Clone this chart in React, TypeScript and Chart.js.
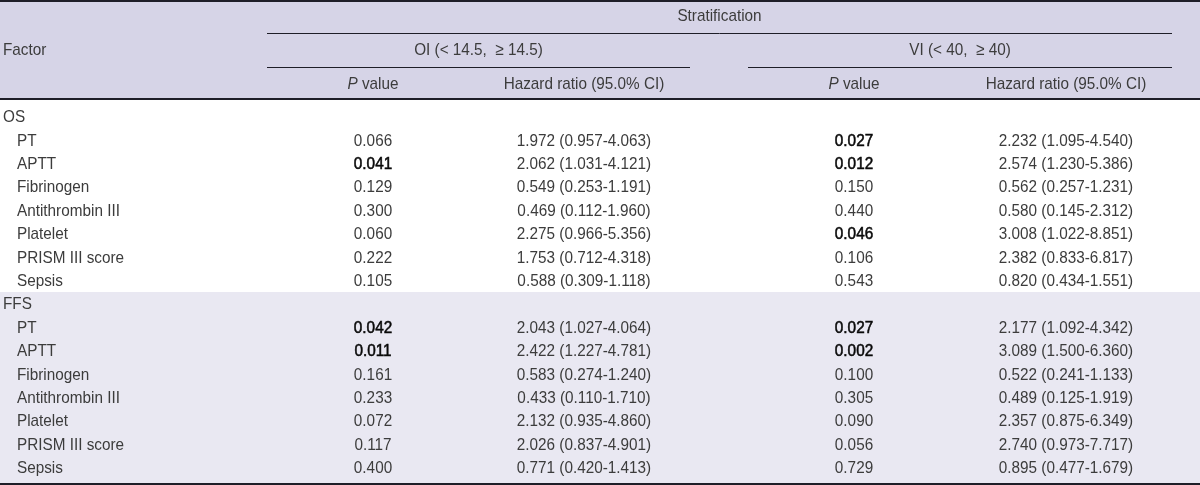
import React, { useEffect, useRef } from 'react';
import { Chart, registerables } from 'chart.js';

Chart.register(...registerables);

// ---------- data ----------
const groups = ['OS', 'FFS'];
const factors = ['PT', 'APTT', 'Fibrinogen', 'Antithrombin III', 'Platelet', 'PRISM III score', 'Sepsis'];
const stratTitle = 'Stratification';
const strataLabels = ['OI (< 14.5,  \u2265 14.5)', 'VI (< 40,  \u2265 40)'];
const factorHeader = 'Factor';
const hrHeader = 'Hazard ratio (95.0% CI)';

const osOiP = [0.066, 0.041, 0.129, 0.300, 0.060, 0.222, 0.105];
const osOiHR = [[1.972, 0.957, 4.063], [2.062, 1.031, 4.121], [0.549, 0.253, 1.191], [0.469, 0.112, 1.960], [2.275, 0.966, 5.356], [1.753, 0.712, 4.318], [0.588, 0.309, 1.118]];
const osViP = [0.027, 0.012, 0.150, 0.440, 0.046, 0.106, 0.543];
const osViHR = [[2.232, 1.095, 4.540], [2.574, 1.230, 5.386], [0.562, 0.257, 1.231], [0.580, 0.145, 2.312], [3.008, 1.022, 8.851], [2.382, 0.833, 6.817], [0.820, 0.434, 1.551]];
const ffsOiP = [0.042, 0.011, 0.161, 0.233, 0.072, 0.117, 0.400];
const ffsOiHR = [[2.043, 1.027, 4.064], [2.422, 1.227, 4.781], [0.583, 0.274, 1.240], [0.433, 0.110, 1.710], [2.132, 0.935, 4.860], [2.026, 0.837, 4.901], [0.771, 0.420, 1.413]];
const ffsViP = [0.027, 0.002, 0.100, 0.305, 0.090, 0.056, 0.729];
const ffsViHR = [[2.177, 1.092, 4.342], [3.089, 1.500, 6.360], [0.522, 0.241, 1.133], [0.489, 0.125, 1.919], [2.357, 0.875, 6.349], [2.740, 0.973, 7.717], [0.895, 0.477, 1.679]];

// ---------- layout / style ----------
const W = 1200;
const H = 485;
const FONT = '"Liberation Sans", Arial, sans-serif';
const FONT_SIZE = 17;
const X_SQUEEZE = 0.9;
const TEXT_DY = 1;
const TEXT = '#3c3c3c';
const TEXT_BOLD = '#0a0a0a';
const HEADER_BG = '#d6d4e7';
const FFS_BG = '#e9e8f2';
const LINE = '#1e1e28';
const COL = { factor: 3, indent: 17, oiP: 373, oiHR: 584, viP: 854, viHR: 1066 };
const SPAN = { strat: [267, 1172], oi: [267, 690], vi: [748, 1172] };
const Y_MIN = -4.979;
const Y_MAX = 15.748;
const HDR_ROWS = [-4.34, -2.89, -1.43];
const HDR_LINES = [-3.58, -2.13];
const HDR_BOTTOM = -0.75;
const FFS_TOP = 7.5;

const fmtP = (v: number) => v.toFixed(3);
const fmtHR = (t: number[]) => `${t[0].toFixed(3)} (${t[1].toFixed(3)}-${t[2].toFixed(3)})`;

function buildColumns() {
  const rowsFactor: any[] = [];
  const pOI: any[] = [], hrOI: any[] = [], pVI: any[] = [], hrVI: any[] = [];
  const sets = [
    [osOiP, osOiHR, osViP, osViHR],
    [ffsOiP, ffsOiHR, ffsViP, ffsViHR],
  ];
  groups.forEach((g, gi) => {
    const base = gi * (factors.length + 1);
    rowsFactor.push({ y: base, label: g, x: COL.factor });
    const [a, b, c, d] = sets[gi] as any;
    factors.forEach((f, fi) => {
      const y = base + 1 + fi;
      rowsFactor.push({ y, label: f, x: COL.indent });
      pOI.push({ y, x: COL.oiP, label: fmtP(a[fi]), bold: a[fi] < 0.05 });
      hrOI.push({ y, x: COL.oiHR, label: fmtHR(b[fi]) });
      pVI.push({ y, x: COL.viP, label: fmtP(c[fi]), bold: c[fi] < 0.05 });
      hrVI.push({ y, x: COL.viHR, label: fmtHR(d[fi]) });
    });
  });
  return [
    { pts: rowsFactor, align: 'left' },
    { pts: pOI, align: 'center' },
    { pts: hrOI, align: 'center' },
    { pts: pVI, align: 'center' },
    { pts: hrVI, align: 'center' },
  ];
}

function drawText(ctx: CanvasRenderingContext2D, text: string, x: number, y: number, align: CanvasTextAlign, opts: { italic?: boolean; bold?: boolean } = {}) {
  ctx.save();
  ctx.translate(x, y + TEXT_DY);
  ctx.scale(X_SQUEEZE, 1);
  ctx.font = `${opts.italic ? 'italic ' : ''}${FONT_SIZE}px ${FONT}`;
  ctx.textAlign = align;
  ctx.textBaseline = 'middle';
  ctx.fillStyle = opts.bold ? TEXT_BOLD : TEXT;
  ctx.fillText(text, 0, 0);
  if (opts.bold) {
    ctx.strokeStyle = TEXT_BOLD;
    ctx.lineWidth = 0.55;
    ctx.strokeText(text, 0, 0);
  }
  ctx.restore();
}

function measure(ctx: CanvasRenderingContext2D, text: string, italic = false) {
  ctx.save();
  ctx.font = `${italic ? 'italic ' : ''}${FONT_SIZE}px ${FONT}`;
  const w = ctx.measureText(text).width * X_SQUEEZE;
  ctx.restore();
  return w;
}

const tablePlugin = {
  id: 'tableDraw',
  beforeDatasetsDraw(chart: any) {
    const { ctx, scales } = chart;
    const xs = scales.x, ys = scales.y;
    const px = (v: number) => xs.getPixelForValue(v);
    const py = (v: number) => ys.getPixelForValue(v);
    ctx.save();
    ctx.fillStyle = '#ffffff';
    ctx.fillRect(px(0), py(Y_MIN), px(W) - px(0), py(Y_MAX) - py(Y_MIN));
    ctx.fillStyle = HEADER_BG;
    ctx.fillRect(px(0), py(Y_MIN), px(W) - px(0), py(HDR_BOTTOM) - py(Y_MIN));
    ctx.fillStyle = FFS_BG;
    ctx.fillRect(px(0), py(FFS_TOP), px(W) - px(0), py(Y_MAX) - py(FFS_TOP));

    ctx.strokeStyle = LINE;
    const hline = (x0: number, x1: number, y: number, w: number) => {
      ctx.lineWidth = w;
      const yy = Math.round(py(y)) + (w % 2 ? 0.5 : 0);
      ctx.beginPath();
      ctx.moveTo(px(x0), yy);
      ctx.lineTo(px(x1), yy);
      ctx.stroke();
    };
    hline(0, W, Y_MIN + 0.04, 2);
    hline(0, W, Y_MAX - 0.04, 2);
    hline(0, W, HDR_BOTTOM, 2);
    hline(SPAN.strat[0], SPAN.strat[1], HDR_LINES[0], 1);
    hline(SPAN.oi[0], SPAN.oi[1], HDR_LINES[1], 1);
    hline(SPAN.vi[0], SPAN.vi[1], HDR_LINES[1], 1);

    drawText(ctx, factorHeader, px(COL.factor), py(HDR_ROWS[1]), 'left');
    drawText(ctx, stratTitle, px((SPAN.strat[0] + SPAN.strat[1]) / 2), py(HDR_ROWS[0]), 'center');
    drawText(ctx, strataLabels[0], px((SPAN.oi[0] + SPAN.oi[1]) / 2), py(HDR_ROWS[1]), 'center');
    drawText(ctx, strataLabels[1], px((SPAN.vi[0] + SPAN.vi[1]) / 2), py(HDR_ROWS[1]), 'center');
    drawText(ctx, hrHeader, px(COL.oiHR), py(HDR_ROWS[2]), 'center');
    drawText(ctx, hrHeader, px(COL.viHR), py(HDR_ROWS[2]), 'center');
    const pHeader = (cx: number) => {
      const w1 = measure(ctx, 'P', true);
      const w2 = measure(ctx, ' value');
      const start = px(cx) - (w1 + w2) / 2;
      drawText(ctx, 'P', start, py(HDR_ROWS[2]), 'left', { italic: true });
      drawText(ctx, ' value', start + w1, py(HDR_ROWS[2]), 'left');
    };
    pHeader(COL.oiP);
    pHeader(COL.viP);
    ctx.restore();
  },
  afterDatasetsDraw(chart: any) {
    const { ctx } = chart;
    chart.data.datasets.forEach((ds: any, di: number) => {
      const meta = chart.getDatasetMeta(di);
      meta.data.forEach((el: any, i: number) => {
        const raw = ds.data[i];
        drawText(ctx, raw.label, el.x, el.y, ds.align, { bold: !!raw.bold });
      });
    });
  },
};

export default function App() {
  const ref = useRef<HTMLCanvasElement>(null);
  useEffect(() => {
    if (!ref.current) return;
    const cols = buildColumns();
    const chart = new Chart(ref.current, {
      type: 'scatter',
      data: {
        datasets: cols.map((c) => ({
          data: c.pts,
          align: c.align,
          pointRadius: 0,
          pointHoverRadius: 0,
          showLine: false,
        })) as any,
      },
      options: {
        animation: false,
        responsive: false,
        devicePixelRatio: 1,
        layout: { padding: 0 },
        events: [],
        plugins: { legend: { display: false }, tooltip: { enabled: false } },
        scales: {
          x: { type: 'linear', min: 0, max: W, display: false },
          y: { type: 'linear', min: Y_MIN, max: Y_MAX, reverse: true, display: false },
        },
      },
      plugins: [tablePlugin],
    });
    return () => chart.destroy();
  }, []);
  return (
    <div style={{ position: 'absolute', left: 0, top: 0, width: W, height: H, background: '#fff' }}>
      <canvas ref={ref} width={W} height={H} style={{ display: 'block' }} />
    </div>
  );
}
